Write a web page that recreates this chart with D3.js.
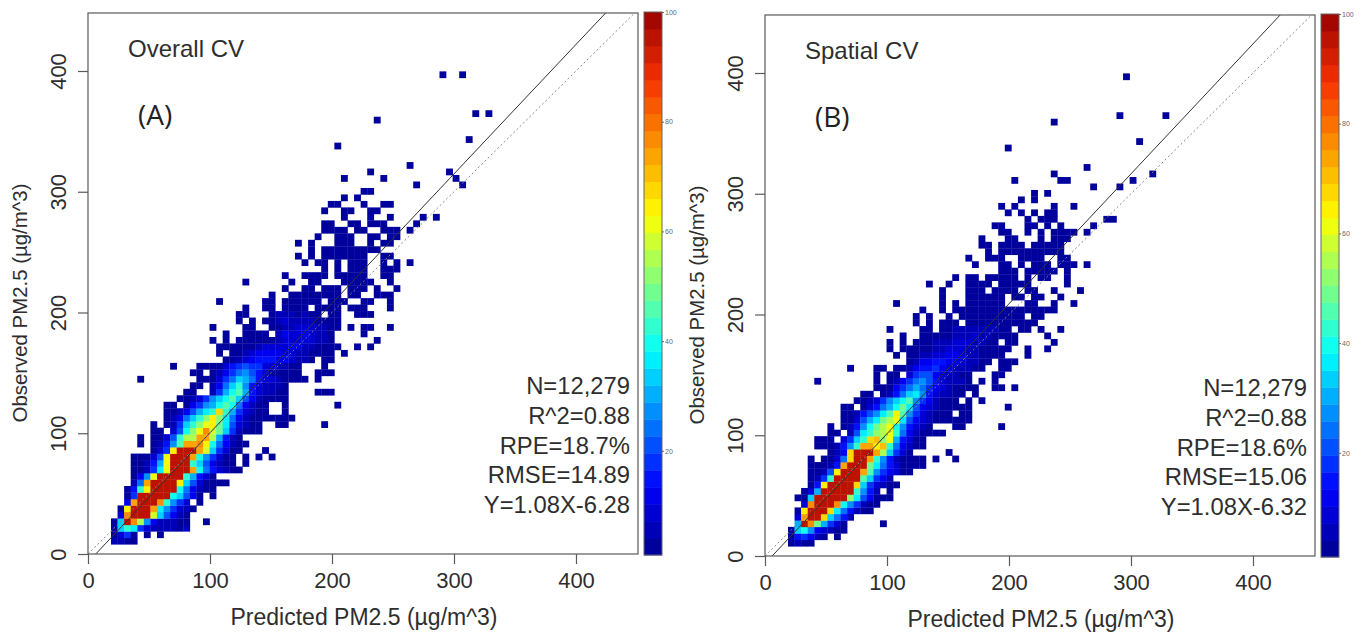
<!DOCTYPE html>
<html>
<head>
<meta charset="utf-8">
<script src="https://cdn.jsdelivr.net/npm/d3@7"></script>
<style>
html, body { margin: 0; padding: 0; background: #fff; }
svg { display: block; }
</style>
</head>
<body>
<svg id="chart" width="1368" height="638"></svg>
<script>
// bin grid: [row, first column, levels], one char per cell, base 32, "." is empty
const cellsA = [
  [2,4,"1100"],[3,4,"0250"],[3,9,"0.0"],[4,4,"0adb52111101"],
  [5,4,"0auoh8311100"],[5,18,"0"],[6,5,"2ouuuia6310"],[7,5,"0kuuunb85210"],
  [8,6,"3nuuuod852.0"],[9,6,"05uuuuuca630.0"],[10,6,"04dkuuuuc73100"],
  [11,7,"17nuuuuka620000"],[12,7,"038juuuud9420"],[13,7,"0015bjuuunc742100"],
  [14,7,"00149juuuda63100"],[14,24,"0"],[15,7,"00026juuunc85200"],[15,24,"0"],[15,26,"0"],[15,28,"0"],
  [16,10,"025kuuunia5200"],[16,27,"0"],[17,8,"0"],[17,10,"0148ennokc73100"],
  [18,8,"0"],[18,10,"0026dhhnnh9410"],[19,10,"00"],[19,13,"26cgjoifa51000"],
  [20,10,"0"],[20,12,"015adgjkfb62100"],[20,29,"00"],[20,36,"0"],
  [21,12,"0137adgkgb7310000000"],[22,12,"001369bdld952100"],[22,30,"0"],
  [23,12,"00"],[23,15,"03589cec73100"],[23,30,"0"],[23,38,"0"],
  [24,14,"001258acea6310000"],
  [25,15,"00"],[25,19,"159ce9421100"],[25,35,"000"],
  [26,16,"00"],[26,19,"137ad8421110"],
  [27,8,"0"],[27,17,"000257a974221000"],[27,33,"0"],[27,35,"0"],
  [28,16,"00"],[28,19,"01357864200000"],[28,35,"000"],
  [29,13,"0"],[29,17,"0000245655221100"],[29,36,"0"],
  [30,21,"00123444332110"],[30,36,"00"],
  [31,20,"0"],[31,22,"0012333322110000"],[31,39,"0"],
  [32,20,"00"],[32,22,"000"],[32,25,"01222232110000"],[32,41,"0"],[32,43,"0"],
  [33,19,"0"],[33,21,"0"],[33,23,"000000122222110"],[33,44,"0"],
  [34,21,"0"],[34,24,"0000"],[34,29,"132232110"],[34,42,"0"],
  [35,19,"0"],[35,24,"00"],[35,28,"00112221100"],[35,40,"0"],[35,42,"00"],[35,46,"0"],
  [36,23,"0"],[36,25,"0"],[36,27,"001211110000"],
  [37,23,"00"],[37,28,"01110100.00"],[37,41,"000"],
  [38,24,"0"],[38,27,"00"],[38,30,"0000.0000"],[38,40,"000"],[38,46,"0"],
  [39,20,"0"],[39,27,"00"],[39,30,"000000"],[39,37,"000"],[39,42,"00"],[39,46,"0"],
  [40,28,"0"],[40,31,"00000000"],[40,40,"00"],[40,44,"000"],
  [41,30,"0"],[41,33,"00.000"],[41,40,"000"],[41,44,"0"],[41,47,"0"],
  [42,24,"0"],[42,31,"0"],[42,34,"00"],[42,39,"00000"],[42,46,"0"],
  [43,30,"0"],[43,33,"0000"],[43,38,"00000"],[43,45,"00"],
  [44,36,"0"],[44,38,"0"],[44,40,"000"],[44,45,"000"],
  [45,33,"0"],[45,35,"00"],[45,38,"0"],[45,40,"000"],[45,45,"0.0"],[45,49,"0"],
  [46,32,"0"],[46,34,"0"],[46,36,"0000000"],[46,45,"00"],
  [47,34,"0"],[47,36,"000000000"],
  [48,32,"0"],[48,34,"0"],[48,38,"000"],[48,43,"0"],[48,45,"00"],
  [49,35,"0"],[49,38,"000"],[49,43,"00"],[49,46,"00"],
  [50,36,"0000"],[50,41,"00"],[50,45,"000"],[50,49,"0"],
  [51,36,"00"],[51,40,"00"],[51,43,"000"],[51,50,"0"],
  [52,39,"0"],[52,43,"0"],[52,46,"0"],[52,51,"0"],[52,53,"0"],
  [53,36,"0"],[53,39,"00"],[53,43,"00"],
  [54,37,"00"],[54,42,"0"],[54,45,"00"],[55,39,"0.0"],[56,42,"00"],
  [57,50,"0"],[57,57,"0"],[58,39,"0"],[58,45,"0"],[58,56,"0"],[59,43,"0"],[59,55,"0"],[60,49,"0"],
  [63,38,"0"],[64,58,"0"],[67,44,"0"],[68,59,"0.0"],[74,54,"0"],[74,57,"0"]
];
const cellsB = [
  [2,4,"0100"],[3,4,"045310"],[3,11,"0"],[4,4,"0ac832100"],
  [5,5,"9uof9520"],[5,18,"0"],[6,5,"2nuula741"],[7,5,"0kuuulb74100"],
  [8,6,"2ouuuoc85100"],[9,5,"00auuuuugb63000"],
  [10,6,"029uuuuud841.0"],[11,7,"04kuuuula52100"],[12,7,"015duuuuea531"],
  [13,7,"0016kuuune853200"],[14,7,"00014nuuufb7420000"],
  [15,7,"0"],[15,9,"0027luund8410000"],[15,26,"0"],[15,29,"0"],
  [16,10,"013luuunha520"],[16,28,"0"],[17,8,"00"],[17,10,"0148dnnkmd73100"],
  [18,8,"000"],[18,12,"25adlmgj94200"],[19,10,"00"],[19,13,"16bdghjd7310000"],
  [20,10,"0"],[20,12,"0148cfhjc84210"],[20,29,"00"],[20,36,"0"],
  [21,12,"00269bfhjb6321000"],[21,29,"000"],
  [22,12,"001468beke8521000"],[22,30,"00"],
  [23,12,"00"],[23,15,"02479cfb632100000"],[23,37,"0"],
  [24,14,"001258ace8531000"],[24,31,"0"],[24,33,"0"],
  [25,15,"00"],[25,18,"0147ab8421100"],[25,32,"0"],
  [26,17,"0003579753210000"],[26,35,"00"],[26,38,"0"],
  [27,8,"0"],[27,17,"0"],[27,19,"0135786421110"],[27,33,"0"],[27,35,"0"],
  [28,17,"0"],[28,19,"00"],[28,22,"2566321100"],[28,35,"00"],
  [29,13,"0"],[29,17,"00"],[29,20,"00134453211100"],[29,36,"00"],
  [30,22,"0133443321100"],[30,36,"000"],
  [31,20,"0"],[31,22,"001122332110000"],[31,40,"0"],
  [32,19,"0"],[32,21,"00000112221100000"],[32,40,"0"],[32,43,"0"],
  [33,19,"0"],[33,21,"0"],[33,23,"0001112221100"],[33,37,"00"],[33,44,"0"],
  [34,21,"0"],[34,24,"000001112110000"],[34,43,"0"],
  [35,19,"0"],[35,24,"00"],[35,27,"00111111100"],[35,39,"00"],[35,42,"0"],[35,45,"0"],
  [36,23,"0"],[36,25,"0"],[36,27,"000"],[36,31,"00000000000"],
  [37,23,"0"],[37,25,"0"],[37,28,"0"],[37,30,"0000000000"],[37,41,"00"],
  [38,24,"0"],[38,27,"0"],[38,29,"00"],[38,31,"00000000000000"],
  [39,20,"0"],[39,27,"0"],[39,29,"0"],[39,31,"000000"],[39,40,"00"],[39,44,"0"],[39,47,"0"],
  [40,27,"0"],[40,31,"000000"],[40,38,"00"],[40,41,"00"],[40,45,"0"],
  [41,27,"0"],[41,31,"000"],[41,35,"0000"],[41,40,"00"],[41,44,"0"],[41,48,"0"],
  [42,25,"0"],[42,28,"0"],[42,31,"000"],[42,34,"0"],[42,36,"00000"],[42,46,"0"],
  [43,29,"0"],[43,31,"00"],[43,34,"00000"],[43,40,"0"],[43,42,"00"],[43,46,"0"],
  [44,36,"000"],[44,40,"0000"],[44,44,"0"],[44,46,"0"],
  [45,32,"0"],[45,36,"00"],[45,39,"0"],[45,41,"000"],[45,45,"00"],[45,47,"0"],[45,49,"0"],
  [46,31,"0"],[46,34,"000"],[46,39,"0000"],[46,45,"00"],
  [47,34,"0"],[47,36,"0000000000"],
  [48,33,"00"],[48,36,"0000"],[48,41,"00000"],
  [49,33,"0"],[49,37,"00"],[49,42,"0"],[49,44,"000"],
  [50,36,"00"],[50,40,"0"],[50,42,"0"],[50,44,"0000"],[50,49,"0"],
  [51,35,"00"],[51,40,"00"],[51,43,"0"],[51,45,"0"],[51,50,"0"],
  [52,40,"0"],[52,42,"00"],[52,44,"0"],[52,52,"00"],
  [53,37,"0"],[53,39,"0"],[53,41,"0"],[53,43,"00"],
  [54,36,"0"],[54,38,"0"],[54,44,"0"],[54,47,"0"],
  [55,39,"0"],[55,41,"0"],[56,41,"0"],[56,43,"0"],
  [57,50,"0"],[57,54,"0"],[58,38,"0"],[58,45,"00"],[58,56,"0"],[59,44,"0"],[59,59,"0"],[60,49,"0"],
  [63,37,"0"],[64,57,"0"],[67,44,"0"],[68,54,"0"],[68,61,"0"],[74,55,"0"]
];

const statsA = ["N=12,279", "R^2=0.88", "RPE=18.7%", "RMSE=14.89", "Y=1.08X-6.28"];
const statsB = ["N=12,279", "R^2=0.88", "RPE=18.6%", "RMSE=15.06", "Y=1.08X-6.32"];
// slope and intercept of the drawn line
const fitA = [1.072, -6.8];
const fitB = [1.076, -6.3];
const axisTicks = [0, 100, 200, 300, 400];
const barTicks = [20, 40, 60, 80, 100];
const binX = 5.385, binY = 5.365;
const nLevels = 32, barMin = 1, barMax = 100;

// jet ramp split in 32 steps, same as the colour bar
const ramp = d3.scaleLinear()
  .domain([0, 0.125, 0.375, 0.625, 0.875, 1])
  .range(["#00008f", "#0000ff", "#00ffff", "#ffff00", "#f83000", "#980000"]);
const levelColor = l => ramp((l + 0.5) / nLevels);

const svg = d3.select("#chart");
const ink = "#5a5a5a", textInk = "#2e2e2e", sans = "'Liberation Sans'";

function drawPanel(opt) {
  const g = svg.append("g");
  const x = d3.scaleLinear().domain([0, 450]).range([opt.left, opt.left + 450 * 1.22]);
  const y = d3.scaleLinear().domain([0, 400]).range([opt.bottom, opt.bottom - 483]);
  const right = opt.left + 550, top = opt.bottom - 541;
  const cw = x(binX) - x(0), ch = y(0) - y(binY);

  // expand the run strings to one record per cell
  const cells = [];
  opt.cells.forEach(([r, c, s]) => {
    for (let i = 0; i < s.length; i++) {
      if (s[i] !== ".") cells.push({ px: (c + i) * binX, py: r * binY, level: parseInt(s[i], 32) });
    }
  });
  g.append("g").attr("style", "filter:blur(0.4px)").selectAll("rect")
    .data(cells).enter().append("rect")
    .attr("x", d => x(d.px) - cw / 2)
    .attr("y", d => y(d.py) - ch / 2)
    .attr("width", cw + 0.3)
    .attr("height", ch + 0.3)
    .attr("fill", d => levelColor(d.level));

  const clipId = "clip" + opt.name;
  g.append("clipPath").attr("id", clipId).append("rect")
    .attr("x", opt.left).attr("y", top).attr("width", right - opt.left).attr("height", opt.bottom - top);
  const lines = g.append("g").attr("clip-path", "url(#" + clipId + ")");
  lines.append("line")
    .attr("x1", x(0)).attr("y1", y(opt.fit[1]))
    .attr("x2", x(450)).attr("y2", y(opt.fit[0] * 450 + opt.fit[1]))
    .attr("stroke", "#333").attr("stroke-width", 1);
  lines.append("line")
    .attr("x1", x(0)).attr("y1", y(0))
    .attr("x2", x(450)).attr("y2", y(450))
    .attr("stroke", "#888").attr("stroke-width", 1).attr("stroke-dasharray", "2,2.5");

  g.append("rect").attr("x", opt.left).attr("y", top)
    .attr("width", right - opt.left).attr("height", opt.bottom - top)
    .attr("fill", "none").attr("stroke", ink).attr("stroke-width", 1.2);

  const xAxis = g.append("g").attr("transform", "translate(0," + opt.bottom + ")")
    .call(d3.axisBottom(x).tickValues(axisTicks).tickSize(10));
  const yAxis = g.append("g").attr("transform", "translate(" + opt.left + ",0)")
    .call(d3.axisLeft(y).tickValues(axisTicks).tickSize(10));
  [xAxis, yAxis].forEach(a => {
    a.select(".domain").remove();
    a.selectAll("line").attr("stroke", ink).attr("stroke-width", 1.2);
    a.selectAll("text").attr("fill", textInk).style("font", "22px " + sans);
  });
  xAxis.selectAll("text").attr("y", 34).attr("dy", 0);
  yAxis.selectAll("text")
    .attr("x", 0).attr("y", 0).attr("dy", 0)
    .attr("text-anchor", "middle")
    .attr("transform", "translate(-22,0) rotate(-90)");

  g.append("text").attr("x", opt.left + 276).attr("y", opt.bottom + 71)
    .attr("text-anchor", "middle").attr("fill", textInk)
    .style("font", "23px " + sans).text("Predicted PM2.5 (µg/m^3)");
  g.append("text").attr("transform", "translate(" + (opt.left - 61) + "," + (opt.bottom - 251) + ") rotate(-90)")
    .attr("text-anchor", "middle").attr("fill", textInk)
    .style("font", "20.4px " + sans).text("Observed PM2.5 (µg/m^3)");

  g.append("text").attr("x", opt.left + 40).attr("y", top + 44)
    .attr("fill", textInk).style("font", "24px " + sans).text(opt.title);
  g.append("text").attr("x", opt.left + 50).attr("y", top + 112)
    .attr("fill", "#222").style("font", "28px 'Open Sans'").text(opt.tag);

  g.selectAll(".stat").data(opt.stats).enter().append("text").attr("class", "stat")
    .attr("x", right - 8)
    .attr("y", (d, i) => opt.bottom - 160 + i * 29.75)
    .attr("text-anchor", "end").attr("fill", textInk)
    .style("font", "23.8px " + sans).text(d => d);

  // colour bar, one rect per level
  const barY = d3.scaleLinear().domain([barMin, barMax]).range([opt.bottom + 1, top - 1]);
  const bar = g.append("g");
  bar.selectAll("rect").data(d3.range(nLevels)).enter().append("rect")
    .attr("x", right + 6).attr("width", 18)
    .attr("y", l => barY(barMin + (l + 1) * (barMax - barMin) / nLevels))
    .attr("height", (barY(barMin) - barY(barMax)) / nLevels + 0.4)
    .attr("fill", levelColor);
  bar.append("rect").attr("x", right + 6).attr("width", 18)
    .attr("y", barY(barMax)).attr("height", barY(barMin) - barY(barMax))
    .attr("fill", "none").attr("stroke", "#666");
  const barAxis = g.append("g").attr("transform", "translate(" + (right + 24) + ",0)")
    .call(d3.axisRight(barY).tickValues(barTicks).tickSize(2).tickPadding(1));
  barAxis.select(".domain").remove();
  barAxis.selectAll("line").attr("stroke", "#666");
  barAxis.selectAll("text").attr("fill", "#666").style("font", "7px " + sans);
}

drawPanel({ name: "A", left: 88, bottom: 554, cells: cellsA, stats: statsA, fit: fitA, title: "Overall CV", tag: "(A)" });
drawPanel({ name: "B", left: 765, bottom: 556, cells: cellsB, stats: statsB, fit: fitB, title: "Spatial CV", tag: "(B)" });
</script>
</body>
</html>
